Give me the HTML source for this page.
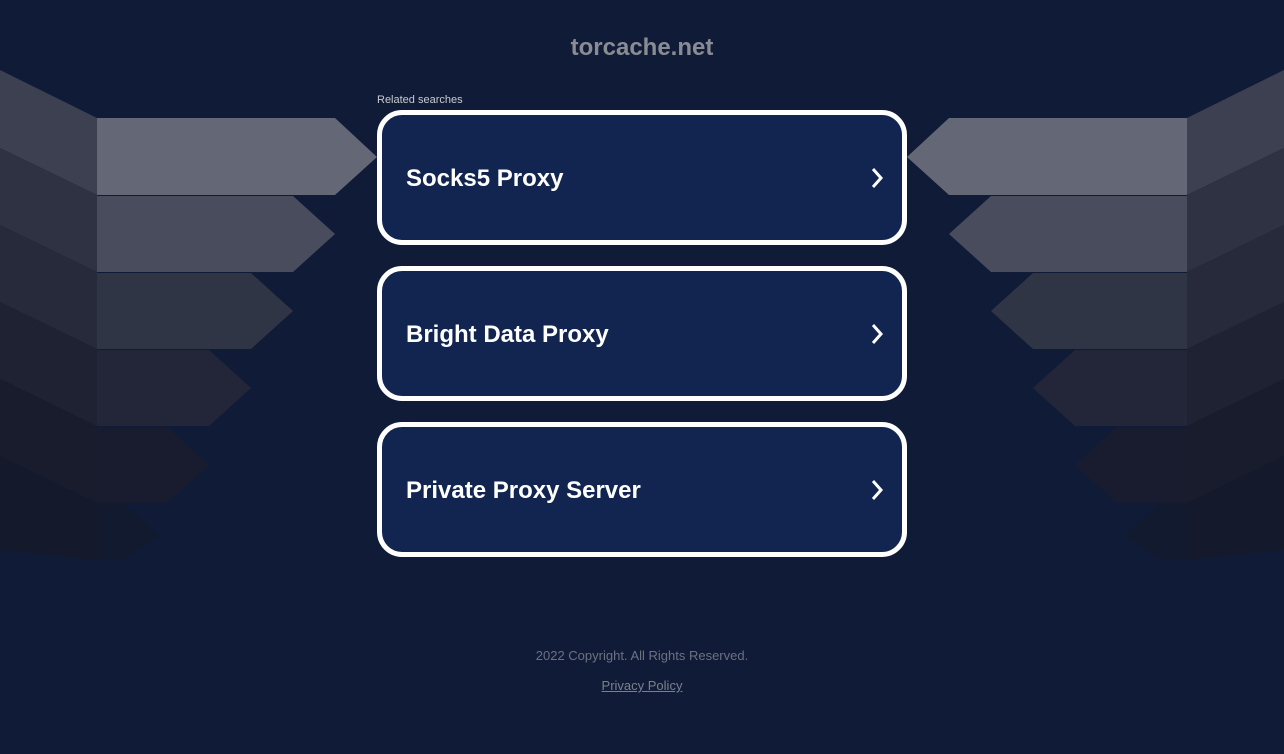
<!DOCTYPE html>
<html><head><meta charset="utf-8"><style>
html,body{margin:0;padding:0;width:1284px;height:754px;overflow:hidden;background:#101c37;font-family:"Liberation Sans",Arial,sans-serif}
svg.bg{position:absolute;left:0;top:0}
.title{position:absolute;top:34px;left:0;width:1284px;text-align:center;color:#8a8c94;font-size:24px;font-weight:bold}
.rel{position:absolute;left:377px;top:94px;font-size:11px;color:#c8cad0}
.card{position:absolute;left:377px;width:520px;height:125px;border:5px solid #fff;border-radius:25px;background:#112550}
.card span{position:absolute;left:24px;top:50%;transform:translateY(-50%);color:#fff;font-size:24px;font-weight:bold;margin-top:1px}
.card svg{position:absolute;right:18px;top:50%;margin-top:-12px}
.copy{position:absolute;top:648px;width:1284px;text-align:center;color:#6c7180;font-size:13px}
.pp{position:absolute;top:678px;width:1284px;text-align:center;font-size:13px}
.pp a{color:#7b7f8c;text-decoration:underline}
</style></head><body>
<svg class="bg" width="1284" height="754">
<g id="L">
<polygon points="0,70 97,118 97,195 0,148" fill="#3c4050"/>
<polygon points="0,148 97,195 97,272 0,225" fill="#2e3243"/>
<polygon points="0,225 97,272 97,349 0,302" fill="#262a3b"/>
<polygon points="0,302 97,349 97,426 0,379" fill="#1e2233"/>
<polygon points="0,379 97,426 97,503 0,456" fill="#181c2d"/>
<polygon points="0,456 97,503 97,560 0,550" fill="#141a2c"/>
<polygon points="97,118 335,118 377,157 335,195 97,195" fill="#646876"/>
<polygon points="97,196 293,196 335,234 293,272 97,272" fill="#484c5c"/>
<polygon points="97,273 251,273 293,311 251,349 97,349" fill="#303546"/>
<polygon points="97,350 209,350 251,388 209,426 97,426" fill="#222638"/>
<polygon points="97,427 167,427 209,465 167,503 97,503" fill="#181c2e"/>
<polygon points="97,504 125,504 160,535 125,560 97,560" fill="#121a30"/>
</g>
<use href="#L" transform="translate(1284,0) scale(-1,1)"/>
</svg>
<div class="title">torcache.net</div>
<div class="rel">Related searches</div>
<div class="card" style="top:110px"><span>Socks5 Proxy</span><svg width="14" height="24"><polyline points="3,3 11,12 3,21" fill="none" stroke="#fff" stroke-width="3"/></svg></div>
<div class="card" style="top:266px"><span>Bright Data Proxy</span><svg width="14" height="24"><polyline points="3,3 11,12 3,21" fill="none" stroke="#fff" stroke-width="3"/></svg></div>
<div class="card" style="top:422px"><span>Private Proxy Server</span><svg width="14" height="24"><polyline points="3,3 11,12 3,21" fill="none" stroke="#fff" stroke-width="3"/></svg></div>
<div class="copy">2022 Copyright. All Rights Reserved.</div>
<div class="pp"><a>Privacy Policy</a></div>
</body></html>
